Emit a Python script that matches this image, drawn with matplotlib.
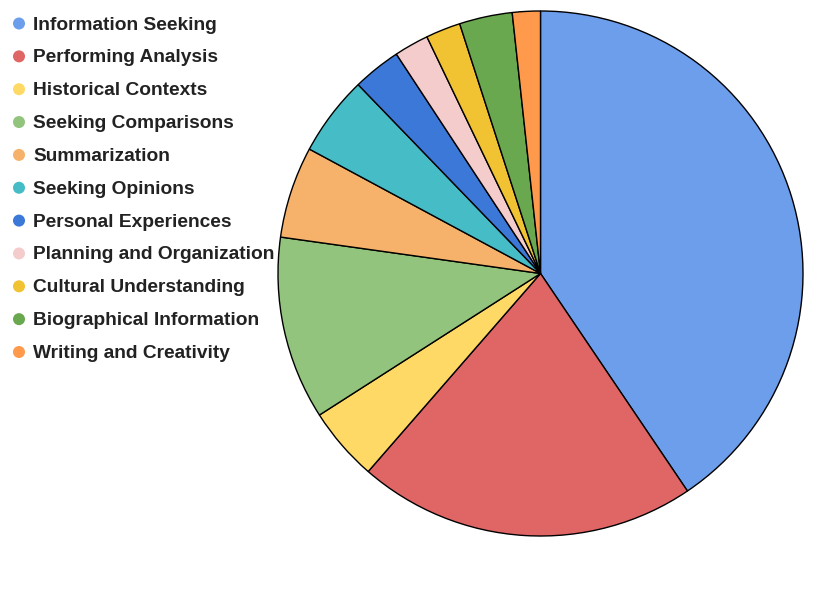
import matplotlib
matplotlib.use("Agg")
import matplotlib.pyplot as plt

categories = ["Information Seeking", "Performing Analysis", "Historical Contexts",
              "Seeking Comparisons", "Summarization", "Seeking Opinions",
              "Personal Experiences", "Planning and Organization",
              "Cultural Understanding", "Biographical Information",
              "Writing and Creativity"]
values = [40.54, 20.85, 4.54, 11.28, 5.64, 4.92, 2.97, 2.13, 2.14, 3.26, 1.72]
colors = ["#6D9EEB", "#E06666", "#FFD966", "#93C47D", "#F6B26B", "#46BDC6",
          "#3C78D8", "#F4CCCC", "#F1C232", "#6AA84F", "#FF9A4C"]

W, H = 817, 611
fig = plt.figure(figsize=(W / 100, H / 100), dpi=100)
ax = fig.add_axes([0, 0, 1, 1])
ax.set_xlim(0, W)
ax.set_ylim(0, H)
ax.set_aspect("equal")
ax.axis("off")

ax.pie(values, colors=colors, startangle=90, counterclock=False,
       center=(540.5, H - 273.5), radius=262.5,
       wedgeprops=dict(edgecolor="black", linewidth=1.0))
ax.set_xlim(0, W)
ax.set_ylim(0, H)

for i, (lab, c) in enumerate(zip(categories, colors)):
    y = H - (23.5 + i * 32.85)
    ax.scatter([19], [y], s=75, color=c, edgecolors="none", zorder=5)
    ax.text(33, y - 1.5, lab, fontsize=13.8, fontweight="bold", family="Liberation Sans",
            color="#222222", va="center", ha="left")

fig.savefig("out.png", dpi=100)
